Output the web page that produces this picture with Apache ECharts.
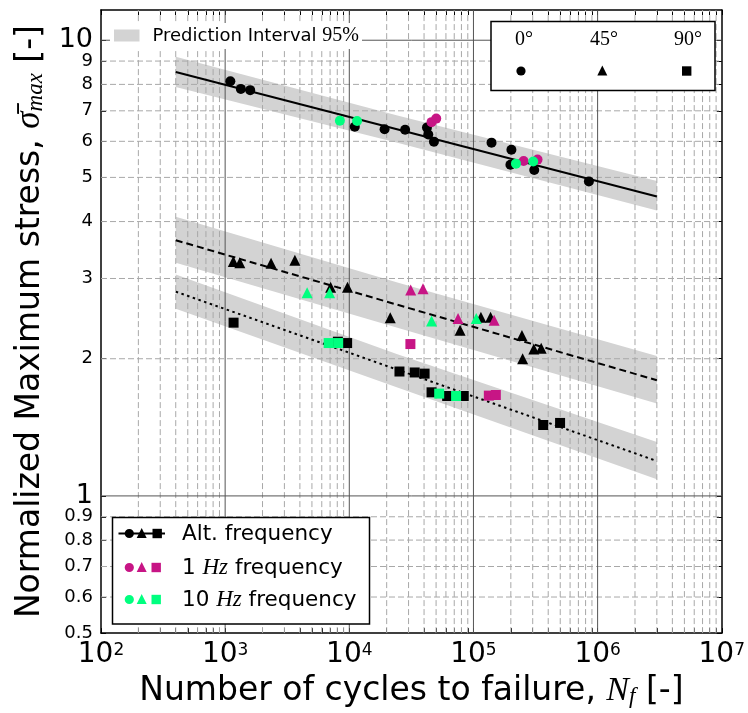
<!DOCTYPE html>
<html><head><meta charset="utf-8">
<script src="https://cdn.jsdelivr.net/npm/echarts@6/dist/echarts.min.js"></script>
<style>html,body{margin:0;padding:0;background:#fff}#c{width:748px;height:713px}</style>
</head><body><div id="c"></div>
<script>
// ---------- axes ----------
const xMin = 100, xMax = 10000000;
const yMin = 0.5, yMax = 11.65;
const xMajorGrid = [1000, 10000, 100000, 1000000];
const xMinorGrid = [200,300,400,500,600,700,800,900,
  2000,3000,4000,5000,6000,7000,8000,9000,
  20000,30000,40000,50000,60000,70000,80000,90000,
  200000,300000,400000,500000,600000,700000,800000,900000,
  2000000,3000000,4000000,5000000,6000000,7000000,8000000,9000000];
const xTickValues = [100].concat(xMinorGrid.slice(0,8), [1000], xMinorGrid.slice(8,16), [10000],
  xMinorGrid.slice(16,24), [100000], xMinorGrid.slice(24,32), [1000000], xMinorGrid.slice(32), [10000000]);
const yMajorGrid = [1, 10];
const yMinorGrid = [0.6, 0.7, 0.8, 0.9, 2, 3, 4, 5, 6, 7, 8, 9];
const yTickLabels = [0.5, 0.6, 0.7, 0.8, 0.9, 1, 2, 3, 4, 5, 6, 7, 8, 9, 10];
// an empty label at the axis top keeps the real "9" / "10" labels out of the min/max overlap check
const yLabelValues = yTickLabels.concat([yMax]);

// ---------- data: 0 deg (circles) ----------
const altCircN = [1101, 1338, 1591, 11066, 19230, 28150, 42230, 43250, 48040, 139800, 198400, 202100, 308700, 850500];
const altCircS = [8.13, 7.82, 7.77, 6.46, 6.38, 6.36, 6.43, 6.21, 5.99, 5.96, 5.33, 5.75, 5.19, 4.90];
const hz1CircN = [45960, 50120, 253500, 328100];
const hz1CircS = [6.61, 6.73, 5.43, 5.47];
const hz10CircN = [8395, 11545, 220000, 303000];
const hz10CircS = [6.66, 6.65, 5.36, 5.42];
// ---------- data: 45 deg (triangles) ----------
const altTriN = [1163, 1313, 2342, 3644, 7073, 9674, 21360, 77980, 114800, 137300, 245700, 248900, 306400, 351300];
const altTriS = [3.27, 3.25, 3.24, 3.29, 2.87, 2.87, 2.46, 2.31, 2.465, 2.465, 2.25, 2.00, 2.10, 2.11];
const hz1TriN = [31220, 39230, 75160, 146700];
const hz1TriS = [2.83, 2.85, 2.45, 2.43];
const hz10TriN = [4571, 6943, 45960, 105300];
const hz10TriS = [2.79, 2.79, 2.42, 2.45];
// ---------- data: 90 deg (squares) ----------
const altSqN = [1169, 8091, 9603, 25350, 33610, 40400, 45960, 61380, 83490, 364400, 498400];
const altSqS = [2.40, 2.18, 2.165, 1.875, 1.866, 1.855, 1.688, 1.657, 1.657, 1.431, 1.446];
const hz1SqN = [31050, 133000, 151400];
const hz1SqS = [2.154, 1.660, 1.665];
const hz10SqN = [6818, 8137, 52970, 72440];
const hz10SqS = [2.165, 2.165, 1.677, 1.657];
// ---------- fitted lines ----------
const fitN = [400, 3000000];
const fit0S = [8.52, 4.54];
const fit45S = [3.64, 1.794];
const fit90S = [2.807, 1.193];
// ---------- 95% prediction bands ----------
const bandN = [400, 24400, 3000000];
const band0Lo = [7.90, 5.96, 4.23];
const band0Hi = [9.20, 6.84, 4.91];
const band45Lo = [3.25, 2.34, 1.595];
const band45Hi = [4.10, 2.94, 2.028];
const band90Lo = [2.576, 1.729, 1.088];
const band90Hi = [3.063, 2.045, 1.313];

const BLACK = '#000000', MAG = '#C71585', GRN = '#00FF7F';
const SANS = 'DejaVu Sans', SERIF = 'Liberation Serif';

function zip(a, b) { return a.map((v, i) => [v, b[i]]); }

function bandSeries(lo, hi) {
  return {
    type: 'custom', z: 1, silent: true,
    data: [[bandN[0], lo[0]]],
    renderItem: function (params, api) {
      const pts = [];
      for (let i = 0; i < bandN.length; i++) pts.push(api.coord([bandN[i], hi[i]]));
      for (let i = bandN.length - 1; i >= 0; i--) pts.push(api.coord([bandN[i], lo[i]]));
      return { type: 'polygon', shape: { points: pts }, style: { fill: '#d3d3d3' } };
    }
  };
}
function gridSeries(vals, vertical, style) {
  return {
    type: 'custom', z: 2, silent: true,
    data: vals.map(v => vertical ? [v, yMin] : [xMin, v]),
    renderItem: function (params, api) {
      const v = api.value(vertical ? 0 : 1);
      const p1 = vertical ? api.coord([v, yMin]) : api.coord([xMin, v]);
      const p2 = vertical ? api.coord([v, yMax]) : api.coord([xMax, v]);
      return { type: 'line', shape: { x1: p1[0], y1: p1[1], x2: p2[0], y2: p2[1] }, style: style };
    }
  };
}
function lineSeries(s, type) {
  return {
    type: 'line', z: 3, silent: true, symbol: 'none',
    data: zip(fitN, s),
    lineStyle: { color: BLACK, width: 2, type: type }
  };
}
function scat(n, s, sym, color) {
  return {
    type: 'scatter', z: 4, silent: true, symbol: sym,
    symbolSize: sym === 'triangle' ? 11 : 10,
    data: zip(n, s), itemStyle: { color: color, opacity: 1 }
  };
}

const dashStyle = { stroke: '#a8a8a8', lineWidth: 1, lineDash: [6, 3] };
const solidStyle = { stroke: '#555555', lineWidth: 1 };

const axisLineStyle = { show: true, onZero: false, lineStyle: { color: '#000', width: 1.5 } };

const chart = echarts.init(document.getElementById('c'), null, { renderer: 'canvas' });
chart.setOption({
  animation: false,
  backgroundColor: '#fff',
  textStyle: { fontFamily: SANS },
  grid: { left: 101, right: 21, top: 10, bottom: 79, containLabel: false },
  xAxis: [{
    type: 'log', logBase: 10, min: xMin, max: xMax, position: 'bottom',
    axisLine: axisLineStyle,
    axisTick: { show: true, inside: true, length: 5, customValues: xTickValues, lineStyle: { color: '#000' } },
    axisLabel: {
      margin: 9, color: '#000', hideOverlap: false,
      formatter: v => '{b|10}{s|' + Math.round(Math.log10(v)) + '}',
      rich: {
        b: { fontSize: 28, lineHeight: 26, fontFamily: SANS, color: '#000' },
        s: { fontSize: 17, fontFamily: SANS, color: '#000', verticalAlign: 'top' }
      }
    },
    splitLine: { show: false },
    name: 'Number of cycles to failure, {it|N}{sub|f} [-]',
    nameLocation: 'middle', nameGap: 37,
    nameTextStyle: {
      fontSize: 33, fontFamily: SANS, color: '#000',
      rich: {
        it: { fontSize: 34, fontFamily: SERIF, fontStyle: 'italic', color: '#000' },
        sub: { fontSize: 23, fontFamily: SERIF, fontStyle: 'italic', color: '#000', verticalAlign: 'bottom' }
      }
    }
  }, {
    type: 'log', logBase: 10, min: xMin, max: xMax, position: 'top',
    axisLine: axisLineStyle,
    axisTick: { show: true, inside: true, length: 5, customValues: xTickValues, lineStyle: { color: '#000' } },
    axisLabel: { show: false }, splitLine: { show: false }
  }],
  yAxis: [{
    type: 'log', logBase: 10, min: yMin, max: yMax, position: 'left',
    axisLine: axisLineStyle,
    axisTick: { show: true, inside: true, length: 5, customValues: yTickLabels, lineStyle: { color: '#000' } },
    axisLabel: {
      customValues: yLabelValues, margin: 8, color: '#000', hideOverlap: false,
      formatter: v => v > 10.5 ? '' : ((Math.abs(v - 1) < 1e-9 || Math.abs(v - 10) < 1e-9) ? '{big|' + Math.round(v) + '}' : '{sm|' + (+v.toPrecision(3)) + '}'),
      rich: {
        big: { fontSize: 27, lineHeight: 18, fontFamily: SANS, color: '#000' },
        sm: { fontSize: 18, lineHeight: 14, fontFamily: SANS, color: '#000' }
      }
    },
    splitLine: { show: false },
    name: 'Normalized Maximum stress, {it|σ̄}{sub|max} [-]',
    nameLocation: 'middle', nameGap: 52,
    nameTextStyle: {
      fontSize: 33, fontFamily: SANS, color: '#000',
      rich: {
        it: { fontSize: 35, fontFamily: SERIF, fontStyle: 'italic', color: '#000' },
        sub: { fontSize: 23, fontFamily: SERIF, fontStyle: 'italic', color: '#000', verticalAlign: 'bottom' }
      }
    }
  }, {
    type: 'log', logBase: 10, min: yMin, max: yMax, position: 'right',
    axisLine: axisLineStyle,
    axisTick: { show: true, inside: true, length: 5, customValues: yTickLabels, lineStyle: { color: '#000' } },
    axisLabel: { show: false }, splitLine: { show: false }
  }],
  series: [
    bandSeries(band0Lo, band0Hi),
    bandSeries(band45Lo, band45Hi),
    bandSeries(band90Lo, band90Hi),
    gridSeries(xMinorGrid, true, dashStyle),
    gridSeries(yMinorGrid, false, dashStyle),
    gridSeries(xMajorGrid, true, solidStyle),
    gridSeries(yMajorGrid, false, solidStyle),
    lineSeries(fit0S, 'solid'),
    lineSeries(fit45S, [7, 4]),
    lineSeries(fit90S, [2.5, 3.5]),
    scat(altCircN, altCircS, 'circle', BLACK),
    scat(altTriN, altTriS, 'triangle', BLACK),
    scat(altSqN, altSqS, 'rect', BLACK),
    scat(hz1CircN, hz1CircS, 'circle', MAG),
    scat(hz1TriN, hz1TriS, 'triangle', MAG),
    scat(hz1SqN, hz1SqS, 'rect', MAG),
    scat(hz10CircN, hz10CircS, 'circle', GRN),
    scat(hz10TriN, hz10TriS, 'triangle', GRN),
    scat(hz10SqN, hz10SqS, 'rect', GRN)
  ],
  graphic: [
    // prediction interval legend
    { type: 'rect', z: 100, silent: true, shape: { x: 110, y: 23, width: 252, height: 26 }, style: { fill: '#fff' } },
    { type: 'rect', z: 101, silent: true, shape: { x: 114, y: 29.5, width: 25.5, height: 12 }, style: { fill: '#d3d3d3' } },
    { type: 'text', z: 101, silent: true, style: {
        x: 152.5, y: 36, text: 'Prediction Interval {m|95%}', fill: '#000',
        font: '18px "DejaVu Sans"', textVerticalAlign: 'middle',
        rich: { m: { fontFamily: SERIF, fontSize: 20, fill: '#000' } } } },
    // orientation legend
    { type: 'rect', z: 100, silent: true, shape: { x: 491, y: 21.5, width: 224, height: 69 }, style: { fill: '#fff', stroke: '#000', lineWidth: 1.5 } },
    { type: 'text', z: 101, silent: true, style: { x: 524, y: 40, text: '0°', fill: '#000', font: '20px "Liberation Serif"', textAlign: 'center', textVerticalAlign: 'middle' } },
    { type: 'text', z: 101, silent: true, style: { x: 604, y: 40, text: '45°', fill: '#000', font: '20px "Liberation Serif"', textAlign: 'center', textVerticalAlign: 'middle' } },
    { type: 'text', z: 101, silent: true, style: { x: 688, y: 40, text: '90°', fill: '#000', font: '20px "Liberation Serif"', textAlign: 'center', textVerticalAlign: 'middle' } },
    { type: 'circle', z: 101, silent: true, shape: { cx: 521, cy: 71, r: 4.6 }, style: { fill: '#000' } },
    { type: 'polygon', z: 101, silent: true, shape: { points: [[602.3, 65.5], [597.3, 75.5], [607.3, 75.5]] }, style: { fill: '#000' } },
    { type: 'rect', z: 101, silent: true, shape: { x: 682, y: 66.3, width: 9.4, height: 9.4 }, style: { fill: '#000' } },
    // frequency legend
    { type: 'rect', z: 100, silent: true, shape: { x: 112.5, y: 517.5, width: 257, height: 106.5 }, style: { fill: '#fff', stroke: '#000', lineWidth: 1.5 } },
    { type: 'line', z: 101, silent: true, shape: { x1: 118.5, y1: 533.5, x2: 165, y2: 533.5 }, style: { stroke: '#000', lineWidth: 2 } },
    { type: 'circle', z: 102, silent: true, shape: { cx: 129.3, cy: 533.5, r: 4.6 }, style: { fill: '#000' } },
    { type: 'polygon', z: 102, silent: true, shape: { points: [[141.7, 528], [136.7, 538], [146.7, 538]] }, style: { fill: '#000' } },
    { type: 'rect', z: 102, silent: true, shape: { x: 152.5, y: 528.8, width: 9.4, height: 9.4 }, style: { fill: '#000' } },
    { type: 'circle', z: 102, silent: true, shape: { cx: 129.3, cy: 567.5, r: 4.6 }, style: { fill: MAG } },
    { type: 'polygon', z: 102, silent: true, shape: { points: [[141.7, 562], [136.7, 572], [146.7, 572]] }, style: { fill: MAG } },
    { type: 'rect', z: 102, silent: true, shape: { x: 151.5, y: 562.8, width: 9.4, height: 9.4 }, style: { fill: MAG } },
    { type: 'circle', z: 102, silent: true, shape: { cx: 129.3, cy: 599.5, r: 4.6 }, style: { fill: GRN } },
    { type: 'polygon', z: 102, silent: true, shape: { points: [[141.7, 594], [136.7, 604], [146.7, 604]] }, style: { fill: GRN } },
    { type: 'rect', z: 102, silent: true, shape: { x: 151.5, y: 594.8, width: 9.4, height: 9.4 }, style: { fill: GRN } },
    { type: 'text', z: 102, silent: true, style: { x: 182, y: 534, text: 'Alt. frequency', fill: '#000', font: '21.5px "DejaVu Sans"', textVerticalAlign: 'middle' } },
    { type: 'text', z: 102, silent: true, style: { x: 182, y: 568, text: '1 {it|Hz} frequency', fill: '#000', font: '21.5px "DejaVu Sans"', textVerticalAlign: 'middle',
        rich: { it: { fontFamily: SERIF, fontStyle: 'italic', fontSize: 23, fill: '#000' } } } },
    { type: 'text', z: 102, silent: true, style: { x: 182, y: 600, text: '10 {it|Hz} frequency', fill: '#000', font: '21.5px "DejaVu Sans"', textVerticalAlign: 'middle',
        rich: { it: { fontFamily: SERIF, fontStyle: 'italic', fontSize: 23, fill: '#000' } } } }
  ]
});
</script>
</body></html>
